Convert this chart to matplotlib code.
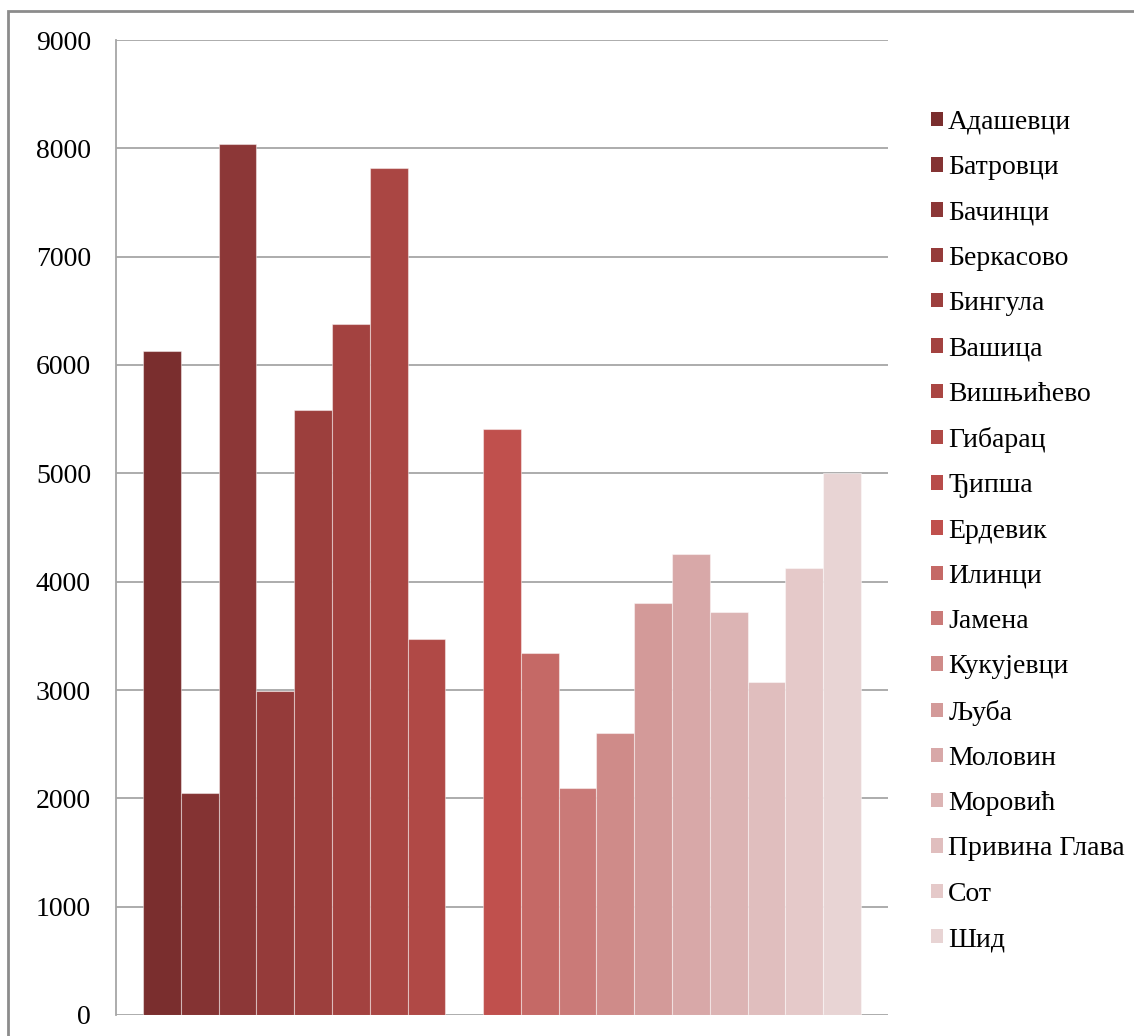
import numpy as np
import matplotlib
matplotlib.use("Agg")
import matplotlib.pyplot as plt
from matplotlib.patches import Patch, Rectangle

# ---------- data ----------
villages = ["Адашевци", "Батровци", "Бачинци", "Беркасово", "Бингула", "Вашица",
            "Вишњићево", "Гибарац", "Ђипша", "Ердевик", "Илинци", "Јамена",
            "Кукујевци", "Љуба", "Моловин", "Моровић", "Привина Глава", "Сот", "Шид"]
values = [6130, 2050, 8040, 2990, 5585, 6380, 7820, 3470, 0, 5410,
          3340, 2100, 2600, 3800, 4260, 3720, 3070, 4130, 5000]
colors = ["#7A2E2E", "#843333", "#8C3737", "#953B3A", "#9C3F3D", "#A34240",
          "#AA4643", "#B04946", "#B84C4A", "#C0504D", "#C56966", "#CA7A78",
          "#CF8B89", "#D39A99", "#D8A8A8", "#DCB4B4", "#E0BEBE", "#E5C9C9", "#E8D4D4"]
yticks = [0, 1000, 2000, 3000, 4000, 5000, 6000, 7000, 8000, 9000]

plt.rcParams["font.family"] = ["Liberation Serif", "DejaVu Serif"]

W, H = 1134, 1036
fig = plt.figure(figsize=(W / 100, H / 100), dpi=100)
fig.patch.set_facecolor("white")

# outer chart border (only top/left visible, the rest is cropped)
fig.add_artist(Rectangle((8 / W, -0.05), 1.1, 1.05 - 11 / H, transform=fig.transFigure,
                         fill=False, edgecolor="#8C8C8C", lw=2.0, zorder=0))

ax = fig.add_axes([116 / W, 21 / H, (888 - 116) / W, (1015 - 40) / H])
ax.set_facecolor("white")

x = np.arange(len(values))
ax.bar(x, values, width=1.0, color=colors, edgecolor=(1, 1, 1, 0.45),
       linewidth=0.8, zorder=3)

ax.set_xlim(-0.5 - 27 / 37.7, len(values) - 0.5 + 27 / 37.7)
ax.set_ylim(0, 9000)
ax.set_yticks(yticks)
ax.set_xticks([])
ax.grid(axis="y", color="#A6A6A6", lw=1.3, zorder=1)
for s in ["top", "right", "bottom"]:
    ax.spines[s].set_visible(False)
ax.spines["left"].set_color("#A6A6A6")
ax.spines["left"].set_linewidth(1.3)
ax.tick_params(axis="y", length=0, pad=18, labelsize=20, labelcolor="black")

handles = [Patch(facecolor=c, edgecolor="none", label=n) for c, n in zip(colors, villages)]
fig.legend(handles=handles, loc="upper left", bbox_to_anchor=(931 / W, (H - 110) / H),
           frameon=False, fontsize=20, handlelength=0.42, handleheight=0.42,
           handletextpad=0.2, labelspacing=0.73, borderpad=0, borderaxespad=0)

fig.savefig("out.png", dpi=100, facecolor="white")
